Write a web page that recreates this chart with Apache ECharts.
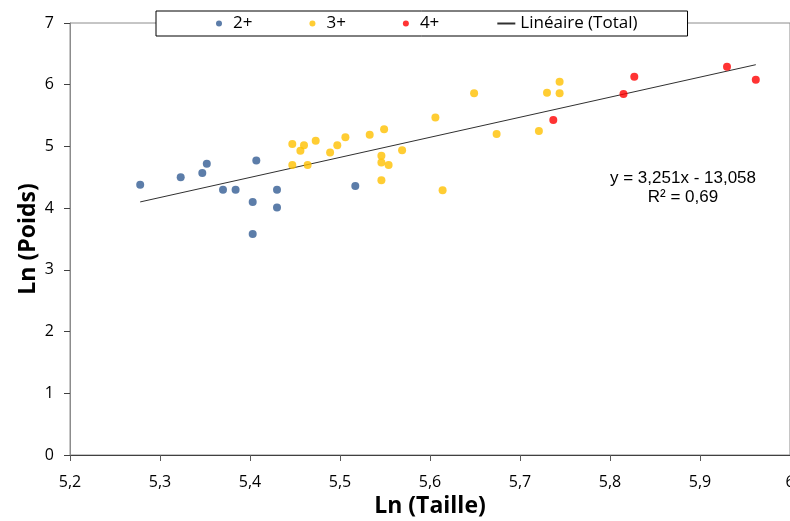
<!DOCTYPE html>
<html>
<head>
<meta charset="utf-8">
<script src="https://cdn.jsdelivr.net/npm/echarts@6/dist/echarts.min.js"></script>
<style>
  html, body { margin: 0; padding: 0; background: #fff; }
  #main { width: 790px; height: 521px; }
</style>
</head>
<body>
<div id="main"></div>
<script>
// points: [Ln(Taille), Ln(Poids)]
var points2 = [
    [5.278, 4.38], [5.323, 4.50], [5.347, 4.57], [5.352, 4.72],
    [5.370, 4.30], [5.384, 4.30], [5.407, 4.77], [5.403, 4.10],
    [5.403, 3.58], [5.430, 4.30], [5.430, 4.01], [5.517, 4.36]
];
var points3 = [
    [5.447, 5.04], [5.460, 5.02], [5.456, 4.93], [5.473, 5.09],
    [5.447, 4.70], [5.464, 4.70], [5.489, 4.90], [5.497, 5.02],
    [5.506, 5.15], [5.533, 5.19], [5.549, 5.28], [5.546, 4.85],
    [5.546, 4.74], [5.554, 4.70], [5.546, 4.45], [5.569, 4.94],
    [5.606, 5.47], [5.614, 4.29], [5.649, 5.86], [5.674, 5.20],
    [5.730, 5.87], [5.744, 6.05], [5.744, 5.86], [5.721, 5.25]
];
var points4 = [
    [5.737, 5.43], [5.827, 6.13], [5.815, 5.85], [5.930, 6.29], [5.962, 6.08]
];
var seriesNames = ['2+', '3+', '4+', 'Linéaire (Total)'];
var seriesColors = ['#335c93', '#ffc000', '#ff0000', '#303030'];

// regression of all points (as printed on the chart)
var trendSlope = 3.251;
var trendIntercept = -13.058;
var trendR2 = 0.69;

var xTicks = [5.2, 5.3, 5.4, 5.5, 5.6, 5.7, 5.8, 5.9, 6.0];
var yTicks = [0, 1, 2, 3, 4, 5, 6, 7];

var allX = points2.concat(points3, points4).map(function (p) { return p[0]; });
var xLo = Math.min.apply(null, allX);
var xHi = Math.max.apply(null, allX);
var trendLine = [
    [xLo, trendSlope * xLo + trendIntercept],
    [xHi, trendSlope * xHi + trendIntercept]
];

function frNum(v, d) {
    return v.toFixed(d).replace('.', ',');
}

var chartDom = document.getElementById('main');
var myChart = echarts.init(chartDom);
var option;

var labelFont = {
    color: '#000',
    fontFamily: 'Open Sans',
    fontSize: 16
};
var titleFont = {
    color: '#000',
    fontFamily: 'Open Sans',
    fontSize: 23,
    fontWeight: 'bold'
};

option = {
    animation: false,
    backgroundColor: '#fff',
    grid: {
        left: 70,
        right: 0,
        top: 23,
        bottom: 66,
        outerBoundsMode: 'none',
        show: true,
        borderColor: '#8c8c8c',
        borderWidth: 1
    },
    legend: {
        left: 156,
        top: 11,
        padding: [4, 50, 4, 60],
        itemWidth: 18,
        itemHeight: 6,
        itemGap: 57,
        backgroundColor: '#fff',
        borderColor: '#000',
        borderWidth: 1,
        textStyle: {
            color: '#000',
            fontFamily: 'Open Sans',
            fontSize: 17
        },
        data: [
            seriesNames[0],
            seriesNames[1],
            seriesNames[2],
            { name: seriesNames[3], itemStyle: { opacity: 0 } }
        ]
    },
    xAxis: {
        type: 'value',
        min: xTicks[0],
        max: xTicks[xTicks.length - 1],
        interval: 0.1,
        name: 'Ln (Taille)',
        nameLocation: 'middle',
        nameGap: 40,
        nameMoveOverlap: false,
        nameTextStyle: titleFont,
        axisLine: { show: true, lineStyle: { color: '#404040', width: 1 } },
        axisTick: { show: true, inside: false, length: 6, lineStyle: { color: '#595959' } },
        axisLabel: Object.assign({
            margin: 19,
            formatter: function (v) {
                return String(Math.round(v * 10) / 10).replace('.', ',');
            }
        }, labelFont),
        splitLine: { show: false }
    },
    yAxis: {
        type: 'value',
        min: yTicks[0],
        max: yTicks[yTicks.length - 1],
        interval: 1,
        name: 'Ln (Poids)',
        nameLocation: 'middle',
        nameGap: 30,
        nameMoveOverlap: false,
        nameTextStyle: titleFont,
        axisLine: { show: true, lineStyle: { color: '#8c8c8c', width: 1 } },
        axisTick: { show: true, inside: false, length: 6, lineStyle: { color: '#404040' } },
        axisLabel: Object.assign({ margin: 16 }, labelFont),
        splitLine: { show: false }
    },
    graphic: {
        elements: [{
            type: 'text',
            left: 610,
            top: 169,
            z: 10,
            style: {
                text: 'y = ' + frNum(trendSlope, 3) + 'x - ' + frNum(-trendIntercept, 3) +
                      '\nR² = ' + frNum(trendR2, 2),
                fill: '#000',
                fontFamily: 'Liberation Sans',
                fontSize: 17,
                lineHeight: 19,
                textAlign: 'center'
            }
        }]
    },
    series: [
        {
            name: seriesNames[0],
            type: 'scatter',
            symbolSize: 8,
            itemStyle: { color: seriesColors[0] },
            data: points2
        },
        {
            name: seriesNames[1],
            type: 'scatter',
            symbolSize: 8,
            itemStyle: { color: seriesColors[1] },
            data: points3
        },
        {
            name: seriesNames[2],
            type: 'scatter',
            symbolSize: 8,
            itemStyle: { color: seriesColors[2] },
            data: points4
        },
        {
            name: seriesNames[3],
            type: 'line',
            symbol: 'none',
            z: 1,
            lineStyle: { color: seriesColors[3], width: 1 },
            itemStyle: { color: seriesColors[3] },
            data: trendLine
        }
    ]
};

option && myChart.setOption(option);
</script>
</body>
</html>
